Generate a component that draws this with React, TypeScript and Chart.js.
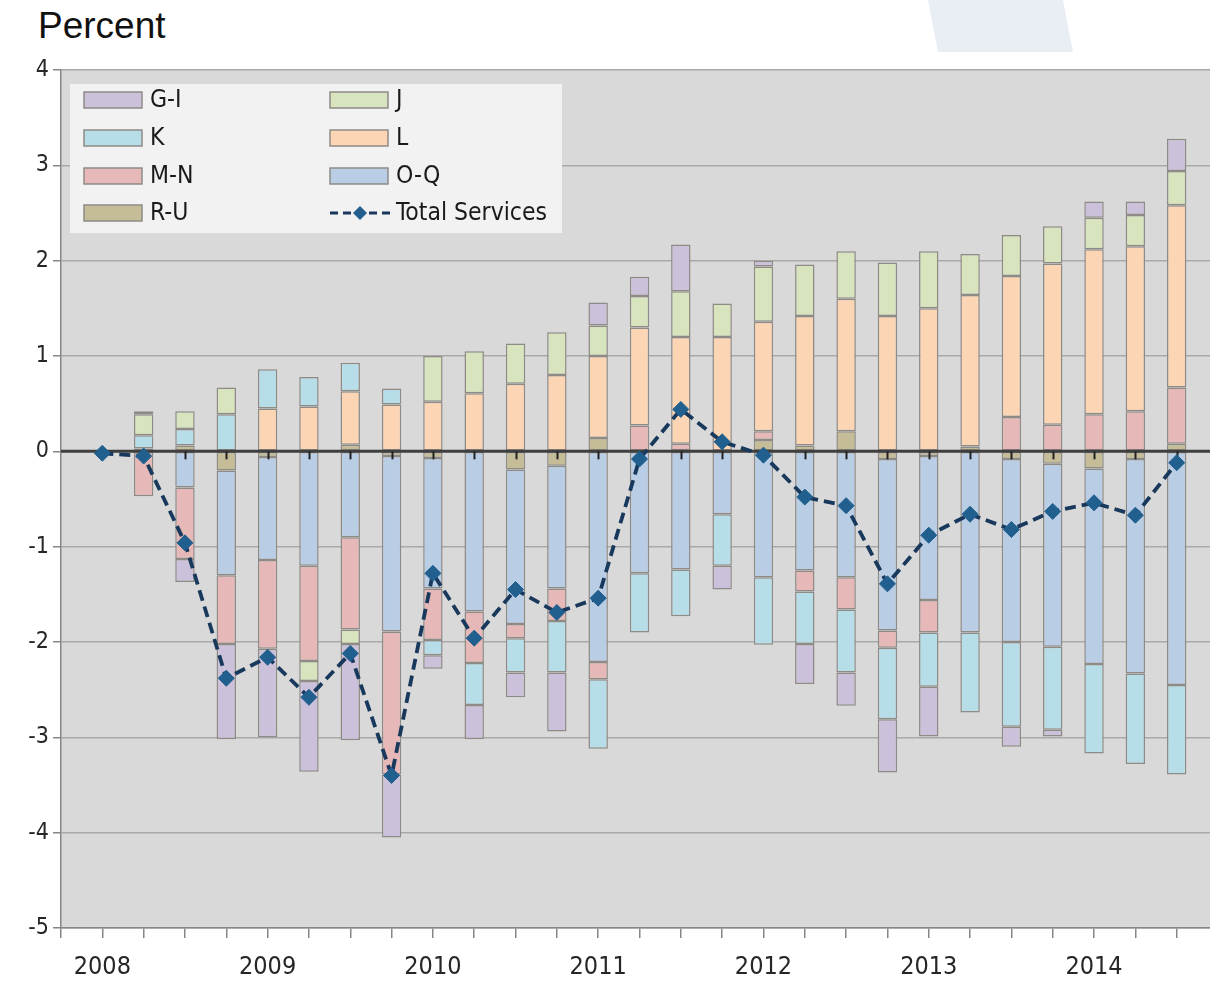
import React, { useEffect, useRef } from "react";
import { Chart, registerables } from "chart.js";

Chart.register(...registerables);

const quarters = [
  "2007Q4",
  "2008Q1", "2008Q2", "2008Q3", "2008Q4",
  "2009Q1", "2009Q2", "2009Q3", "2009Q4",
  "2010Q1", "2010Q2", "2010Q3", "2010Q4",
  "2011Q1", "2011Q2", "2011Q3", "2011Q4",
  "2012Q1", "2012Q2", "2012Q3", "2012Q4",
  "2013Q1", "2013Q2", "2013Q3", "2013Q4",
  "2014Q1", "2014Q2", "2014Q3", "2014Q4",
];

const yearTickLabels = ["2008", "2009", "2010", "2011", "2012", "2013", "2014"];
const yTickValues = [4, 3, 2, 1, 0, -1, -2, -3, -4, -5];

const seriesNames = ["R-U", "O-Q", "M-N", "L", "K", "J", "G-I", "Total Services"];

const RU = [null, null, 0.03, 0.06, -0.2, -0.06, null, 0.07, -0.05, -0.07, null, -0.19, -0.15, 0.14, null, null, null, 0.12, 0.06, 0.21, -0.08, -0.05, 0.05, -0.08, -0.13, -0.18, -0.08, 0.08, null];
const OQ = [null, null, null, -0.38, -1.1, -1.08, -1.2, -0.9, -1.84, -1.37, -1.68, -1.62, -1.29, -2.21, -1.28, -1.24, -0.66, -1.32, -1.25, -1.32, -1.8, -1.51, -1.9, -1.92, -1.92, -2.05, -2.25, -2.45, null];
const MN = [null, null, -0.47, -0.75, -0.72, -0.93, -1.0, -0.97, -1.5, -0.54, -0.54, -0.15, -0.34, -0.18, 0.27, 0.08, null, 0.09, -0.22, -0.34, -0.18, -0.34, null, 0.36, 0.28, 0.39, 0.42, 0.59, null];
const L = [null, null, null, null, null, 0.45, 0.47, 0.56, 0.49, 0.52, 0.61, 0.71, 0.8, 0.86, 1.03, 1.12, 1.2, 1.15, 1.36, 1.39, 1.42, 1.5, 1.59, 1.48, 1.69, 1.73, 1.73, 1.91, null];
const K = [null, null, 0.14, 0.175, 0.39, 0.41, 0.31, 0.3, 0.17, -0.16, -0.44, -0.36, -0.54, -0.73, -0.62, -0.49, -0.54, -0.71, -0.55, -0.66, -0.75, -0.57, -0.84, -0.89, -0.87, -0.94, -0.95, -0.94, null];
const J = [null, null, 0.22, 0.185, 0.28, null, -0.21, -0.15, null, 0.48, 0.44, 0.42, 0.45, 0.32, 0.33, 0.48, 0.35, 0.58, 0.54, 0.5, 0.56, 0.6, 0.43, 0.43, 0.39, 0.33, 0.33, 0.36, null];
const GI = [null, null, 0.03, -0.24, -1.0, -0.93, -0.95, -1.01, -0.66, -0.14, -0.36, -0.26, -0.62, 0.24, 0.2, 0.49, -0.25, 0.06, -0.42, -0.35, -0.56, -0.52, null, -0.21, -0.07, 0.17, 0.14, 0.34, null];
const TOTAL = [null, -0.02, -0.05, -0.96, -2.38, -2.16, -2.58, -2.12, -3.4, -1.28, -1.96, -1.45, -1.69, -1.54, -0.08, 0.44, 0.1, -0.04, -0.48, -0.57, -1.39, -0.88, -0.66, -0.82, -0.63, -0.54, -0.67, -0.12, null];

const COLORS: Record<string, string> = {
  "G-I": "#ccc1da",
  J: "#d7e4bd",
  K: "#b7dee8",
  L: "#fcd5b5",
  "M-N": "#e6b9b8",
  "O-Q": "#b9cde5",
  "R-U": "#c4bd97",
};
const BAR_BORDER = "#8e8a86";
const LINE_COLOR = "#18385c";
const MARKER_COLOR = "#215f8e";
const NARROW = "'Liberation Sans Narrow', 'DejaVu Sans Condensed', Roboto, sans-serif";

const legendRows = [
  ["G-I", "J"],
  ["K", "L"],
  ["M-N", "O-Q"],
  ["R-U", "Total Services"],
];

const tickLabelFor = (q: string) => {
  const y = q.slice(0, 4);
  return q.endsWith("Q1") && yearTickLabels.includes(y) ? y : "";
};

const bgPlugin = {
  id: "plotBg",
  beforeDraw(chart: any) {
    const { ctx, chartArea } = chart;
    ctx.save();
    ctx.fillStyle = "#d9d9d9";
    ctx.fillRect(chartArea.left, chartArea.top, chartArea.right - chartArea.left, chartArea.bottom - chartArea.top);
    ctx.restore();
  },
};

const zeroLinePlugin = {
  id: "zeroLine",
  beforeDatasetDraw(chart: any, args: any) {
    if (args.meta.type !== "line") return;
    const { ctx, chartArea, scales } = chart;
    const y0 = scales.y.getPixelForValue(0);
    ctx.save();
    ctx.strokeStyle = "#3f3f3f";
    ctx.lineWidth = 3;
    ctx.beginPath();
    ctx.moveTo(chartArea.left, y0);
    ctx.lineTo(chartArea.right, y0);
    ctx.stroke();
    ctx.lineWidth = 2;
    ctx.strokeStyle = "#222";
    for (let i = 1; i < quarters.length; i++) {
      const x = Math.round(scales.x.getPixelForValue(i)) + 0.5;
      ctx.beginPath();
      ctx.moveTo(x, y0);
      ctx.lineTo(x, y0 + 8);
      ctx.stroke();
    }
    ctx.restore();
  },
};

const legendPlugin = {
  id: "customLegend",
  afterDraw(chart: any) {
    const { ctx } = chart;
    ctx.save();
    ctx.fillStyle = "rgba(243,243,243,0.95)";
    ctx.fillRect(70, 84, 492, 149);
    const colSwatch = [84, 330];
    const colText = [150, 396];
    const rowY = [100, 138, 176, 213];
    ctx.font = `24.5px ${NARROW}`;
    ctx.textBaseline = "middle";
    legendRows.forEach((row, r) => {
      row.forEach((name, c) => {
        const sx = colSwatch[c];
        const cy = rowY[r];
        if (name === "Total Services") {
          ctx.strokeStyle = LINE_COLOR;
          ctx.lineWidth = 3;
          ctx.setLineDash([8, 5]);
          ctx.beginPath();
          ctx.moveTo(sx, cy);
          ctx.lineTo(sx + 60, cy);
          ctx.stroke();
          ctx.setLineDash([]);
          ctx.fillStyle = MARKER_COLOR;
          ctx.beginPath();
          ctx.moveTo(sx + 30, cy - 7);
          ctx.lineTo(sx + 37, cy);
          ctx.lineTo(sx + 30, cy + 7);
          ctx.lineTo(sx + 23, cy);
          ctx.closePath();
          ctx.fill();
        } else {
          ctx.fillStyle = COLORS[name];
          ctx.fillRect(sx, cy - 8, 58, 16);
          ctx.strokeStyle = BAR_BORDER;
          ctx.lineWidth = 1.5;
          ctx.strokeRect(sx, cy - 8, 58, 16);
        }
        ctx.fillStyle = "#1a1a1a";
        ctx.fillText(name, colText[c], cy + 1);
      });
    });
    ctx.restore();
  },
};

export default function App() {
  const ref = useRef<HTMLCanvasElement | null>(null);

  useEffect(() => {
    if (!ref.current) return;
    const barSeries: [string, (number | null)[]][] = [
      ["R-U", RU],
      ["O-Q", OQ],
      ["M-N", MN],
      ["L", L],
      ["K", K],
      ["J", J],
      ["G-I", GI],
    ];
    const datasets: any[] = barSeries.map(([name, values]) => ({
      type: "bar",
      label: name,
      data: values,
      backgroundColor: COLORS[name],
      borderColor: BAR_BORDER,
      borderWidth: 1.5,
      borderSkipped: false,
      categoryPercentage: 1,
      barPercentage: 0.47,
      order: 1,
    }));
    datasets.push({
      type: "line",
      label: seriesNames[7],
      data: TOTAL,
      stack: "total",
      borderColor: LINE_COLOR,
      borderWidth: 3.8,
      borderDash: [11, 6],
      pointStyle: "rectRot",
      pointRadius: 8,
      pointBackgroundColor: MARKER_COLOR,
      pointBorderColor: MARKER_COLOR,
      pointBorderWidth: 1,
      tension: 0,
      fill: false,
      order: 0,
    });

    const chart = new Chart(ref.current, {
      type: "bar",
      data: { labels: quarters, datasets },
      options: {
        responsive: false,
        animation: false,
        events: [],
        layout: { padding: { top: 70, right: 3, left: 0, bottom: 0 } },
        plugins: { legend: { display: false }, tooltip: { enabled: false }, title: { display: false } },
        scales: {
          x: {
            stacked: true,
            offset: false,
            grid: { display: true, offset: false, drawOnChartArea: false, drawTicks: true, tickLength: 10, color: "#868686", lineWidth: 1.5 },
            border: { display: true, color: "#868686", width: 1.5 },
            ticks: {
              autoSkip: false,
              maxRotation: 0,
              minRotation: 0,
              padding: 14,
              color: "#262626",
              font: { family: NARROW, size: 25 },
              callback: (_v: any, i: number) => tickLabelFor(quarters[i]),
            },
            afterFit: (s: any) => {
              s.height = 55;
            },
          },
          y: {
            stacked: true,
            min: -5,
            max: 4,
            afterBuildTicks: (s: any) => {
              s.ticks = yTickValues.map((v) => ({ value: v }));
            },
            ticks: {
              padding: 4,
              color: "#262626",
              font: { family: NARROW, size: 23 },
              callback: (v: any) => String(v),
            },
            grid: {
              color: (c: any) => (c.tick && c.tick.value === 0 ? "rgba(0,0,0,0)" : "#a9a9a9"),
              tickColor: "#868686",
              lineWidth: 1.5,
              tickLength: 8,
            },
            border: { display: true, color: "#868686", width: 1.5 },
            afterFit: (s: any) => {
              s.width = 61;
            },
          },
        },
      } as any,
      plugins: [bgPlugin, zeroLinePlugin, legendPlugin],
    });
    return () => chart.destroy();
  }, []);

  return (
    <div
      style={{
        position: "absolute",
        left: 0,
        top: 0,
        width: 1210,
        height: 983,
        overflow: "hidden",
        background: "#ffffff",
      }}
    >
      <div
        style={{
          position: "absolute",
          left: 925,
          top: 0,
          width: 150,
          height: 52,
          background: "#e9eef4",
          clipPath: "polygon(3px 0, 138px 0, 148px 52px, 13px 52px)",
        }}
      />
      <div
        style={{
          position: "absolute",
          left: 38,
          top: 7,
          fontFamily: "'Liberation Sans', Arial, sans-serif",
          fontSize: 37,
          lineHeight: "38px",
          color: "#111",
          whiteSpace: "nowrap",
        }}
      >
        Percent
      </div>
      <canvas ref={ref} width={1232} height={983} style={{ position: "absolute", left: 0, top: 0, width: 1232, height: 983 }} />
    </div>
  );
}
